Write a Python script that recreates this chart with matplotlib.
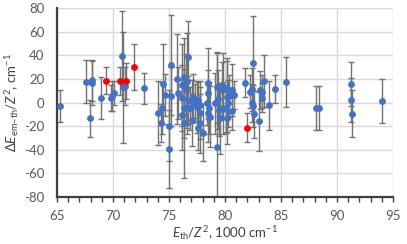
import matplotlib
matplotlib.use("Agg")
import matplotlib.pyplot as plt
from matplotlib.ticker import MultipleLocator

plt.rcParams['font.family'] = ['Lato', 'DejaVu Sans']
plt.rcParams['axes.unicode_minus'] = False
plt.rcParams['mathtext.fontset'] = 'custom'
plt.rcParams['mathtext.rm'] = 'Lato'
plt.rcParams['mathtext.it'] = 'Lato:italic'

# Blue series
blue_x = [65.24, 67.59, 68.1, 68.12, 67.95, 68.9, 69.8, 69.95, 70.05, 70.78,
          70.9, 71.1, 72.77, 74.05, 74.3, 74.4, 74.5, 74.64, 75.0, 75.0,
          75.15, 75.15, 75.7, 75.78, 76.13, 76.3, 76.2, 76.3, 76.2, 76.3,
          76.5, 76.6, 76.67, 76.6, 76.73, 77.02, 77.17, 77.32, 77.47, 77.6,
          77.77, 76.9, 77.08, 77.55, 77.77, 78.06, 77.8, 78.36, 78.5, 78.57,
          78.5, 78.45, 78.66, 79.1, 79.26, 79.3, 79.4, 79.45, 79.55, 79.7,
          79.85, 79.85, 80.15, 80.2, 80.3, 80.2, 80.06, 80.39, 80.6, 80.65,
          80.8, 81.8, 82.23, 82.44, 82.53, 82.4, 82.5, 82.62, 83.06, 83.1,
          83.28, 83.33, 83.51, 83.93, 84.46, 85.45, 88.1, 88.39, 91.22, 91.22,
          91.34, 94.05]
blue_y = [-2.7, 17.6, 18.7, 16.5, -13.4, 3.6, 4.0, 5.5, 7.8, 39.4,
          12.9, 14.2, 12.0, -8.6, -17.1, -4.4, 15.4, 6.4, -19.6, -39.0,
          31.7, 5.2, 19.6, 8.3, 14.8, 21.9, 4.1, -4.9, -10.6, -17.6,
          11.2, 18.5, 38.8, -4.9, 2.1, 0.7, 4.4, -0.7, -3.6, 2.1,
          -2.1, -4.9, -14.8, -21.9, -17.6, -25.6, -9.1, -0.7, 16.3, -4.9,
          -9.1, 7.8, -12.0, -0.7, -37.4, 12.9, 2.7, -6.4, -13.4, 10.6,
          14.0, -4.9, 4.9, 12.0, -0.7, -13.4, -5.8, 5.5, 10.6, -7.2,
          6.4, 16.8, 9.1, 11.2, 33.2, -0.7, -3.0, -10.0, -15.7, 10.6,
          9.1, 4.1, 18.2, -2.4, 11.2, 17.1, -4.4, -4.9, 15.4, 2.1,
          -9.5, 1.3]
blue_err = [13.5, 18, 17.5, 19, 15.5, 17.6, 11, 13, 10, 38,
            47, 16, 13, 27, 16, 22, 34, 18, 30, 33,
            42, 25, 38, 22, 35, 33, 28, 25, 30, 46,
            30, 40, 30, 22, 20, 18, 20, 16, 22, 15,
            20, 18, 22, 18, 25, 24, 22, 18, 30, 22,
            24, 20, 26, 26, 79, 30, 25, 22, 30, 24,
            28, 22, 30, 26, 20, 22, 20, 18, 22, 16,
            12, 12, 14, 18, 40, 16, 18, 20, 25, 16,
            14, 12, 22, 21, 12, 21, 18.7, 18.7, 18.6, 18.6,
            20, 18.7]

# Red series
red_x = [69.4, 70.6, 71.15, 71.9, 81.99]
red_y = [18.5, 18.2, 18.2, 30.3, -21.3]
red_err = [11.3, 12, 15.5, 19.3, 12.5]

x_ticks = [65, 70, 75, 80, 85, 90, 95]
y_ticks = [-80, -60, -40, -20, 0, 20, 40, 60, 80]

fig = plt.figure(figsize=(4.07, 2.44), dpi=100)
ax = fig.add_axes([57/407, 1-197/244, (393-57)/407, (197-8)/244])

err_kw = dict(fmt='none', ecolor='#727272', elinewidth=1.0, capsize=2.2, capthick=1.0, zorder=2)
ax.errorbar(blue_x, blue_y, yerr=blue_err, **err_kw)
ax.errorbar(red_x, red_y, yerr=red_err, **err_kw)
ax.plot(blue_x, blue_y, 'o', color='#4472C4', ms=3.9, mec='#4472C4', zorder=3, linestyle='none')
ax.plot(red_x, red_y, 'o', color='#FF0000', ms=3.9, mec='#FF0000', zorder=3, linestyle='none')

ax.set_xlim(65, 95)
ax.set_ylim(-80, 80)
ax.set_xticks(x_ticks)
ax.set_yticks(y_ticks)
ax.xaxis.set_minor_locator(MultipleLocator(1))
ax.grid(True, which='major', color='#D9D9D9', linewidth=1.0, zorder=0)
ax.set_axisbelow(True)

for s in ['top', 'right']:
    ax.spines[s].set_visible(False)
ax.spines['left'].set_color('#404040')
ax.spines['left'].set_linewidth(1.6)
ax.spines['bottom'].set_color('#404040')
ax.spines['bottom'].set_linewidth(1.6)

ax.tick_params(axis='x', which='both', direction='out', length=3.5, width=1.0,
               color='#404040', labelsize=9.5, labelcolor='#595959', pad=6)
ax.tick_params(axis='y', which='both', length=0, labelsize=9.5, labelcolor='#595959', pad=9)

ax.set_xlabel(r'$E_{\rm th}/Z^2$, 1000 cm$^{-1}$', fontsize=9.5, color='#404040', labelpad=1)
ax.set_ylabel(r'$\mathit{\Delta E}_{\rm em–th}/Z^2$, cm$^{-1}$', fontsize=9.5, color='#404040', labelpad=2)

fig.savefig('out.png', dpi=100)
